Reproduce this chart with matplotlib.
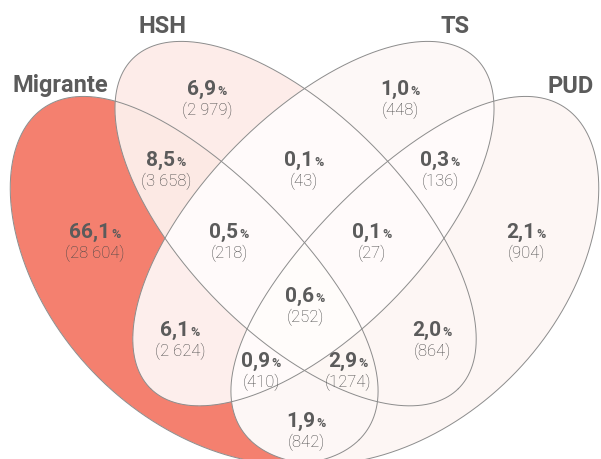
import numpy as np
import matplotlib
matplotlib.use('Agg')
import matplotlib.pyplot as plt
from matplotlib.colors import to_rgba

# ---------------- data ----------------
set_names = ["Migrante", "HSH", "TS", "PUD"]
region_keys = ["M", "H", "T", "P", "MH", "HT", "TP", "MHT", "HTP", "MHTP",
               "MT", "HP", "MTP", "MHP", "MP"]
region_pct = [66.1, 6.9, 1.0, 2.1, 8.5, 0.1, 0.3, 0.5, 0.1, 0.6,
              6.1, 2.0, 0.9, 2.9, 1.9]
region_count = ["28 604", "2 979", "448", "904", "3 658", "43", "136", "218", "27", "252",
                "2 624", "864", "410", "1274", "842"]

# ---------------- layout (pixel geometry of the four shapes) ----------------
W, H = 601, 459
SYM = 304.5   # vertical symmetry axis
# (cx, cy, semi-major, semi-minor, angle deg, bend)
SHAPE_OUTER = (183.7, 290.8, 229.4, 121.6, 45.0, -0.361)   # Migrante (PUD mirrored)
SHAPE_INNER = (295.4, 223.8, 231.8, 110.0, 45.4, -0.006)   # HSH (TS mirrored)
shapes = [(SHAPE_OUTER, False), (SHAPE_INNER, False), (SHAPE_INNER, True), (SHAPE_OUTER, True)]

region_colors = {
    "M": "#F4806F", "H": "#FDEDEA", "T": "#FEF8F7", "P": "#FEF6F4",
    "MH": "#FCE9E4", "HT": "#FFFBFA", "TP": "#FFFBFA", "MHT": "#FFFBFA",
    "HTP": "#FFFBFA", "MHTP": "#FFFCFB", "MT": "#FDEFEC", "HP": "#FEF6F4",
    "MTP": "#FFFBFA", "MHP": "#FEF7F5", "MP": "#FEF7F6",
}
label_pos = {  # (x, baseline y of percentage)
    "M": (95, 238), "H": (207, 95), "T": (400, 95), "P": (526, 238),
    "MH": (166, 166), "HT": (304, 166), "TP": (440, 166), "MHT": (229, 238),
    "HTP": (372, 238), "MHTP": (305, 302), "MT": (180, 336), "HP": (432, 336),
    "MTP": (261, 367), "MHP": (348, 367), "MP": (306, 427),
}
set_label_pos = [(60, 92), (162, 33), (455, 33), (571, 93)]

TXT = "#5b5b5b"
CNT = "#454545"
LINE = "#8c8c8c"
plt.rcParams['font.family'] = ['Roboto', 'DejaVu Sans']

fig = plt.figure(figsize=(W/100, H/100), dpi=100)
ax = fig.add_axes([0, 0, 1, 1])
ax.set_xlim(0, W); ax.set_ylim(H, 0); ax.axis('off')

TT = np.linspace(0, 2*np.pi, 1500)

def outline(shape):
    (cx, cy, a, b, ang, k), mir = shape
    t = np.radians(ang)
    u = a*np.cos(TT)
    v = b*np.sin(TT) + k*u*u/1000.0
    xo = cx + u*np.cos(t) - v*np.sin(t)
    yo = cy + u*np.sin(t) + v*np.cos(t)
    if mir:
        xo = 2*SYM - xo
    return xo, yo

def inside(shape, X, Y):
    (cx, cy, a, b, ang, k), mir = shape
    if mir:
        X = 2*SYM - X
    t = np.radians(ang)
    dx, dy = X - cx, Y - cy
    u = dx*np.cos(t) + dy*np.sin(t)
    v = -dx*np.sin(t) + dy*np.cos(t) - k*u*u/1000.0
    return (u/a)**2 + (v/b)**2 <= 1

# region fills
S = 3
xs = (np.arange(W*S) + 0.5)/S
ys = (np.arange(H*S) + 0.5)/S
X, Y = np.meshgrid(xs, ys)
letters = "MHTP"
code = np.zeros(X.shape, int)
for i, sh in enumerate(shapes):
    code |= inside(sh, X, Y).astype(int) << i
img = np.ones(X.shape + (4,))
img[..., 3] = 0
for key in region_keys:
    c = sum(1 << letters.index(ch) for ch in key)
    img[code == c] = to_rgba(region_colors[key])
ax.imshow(img, extent=(0, W, H, 0), interpolation='antialiased', zorder=1)

# outlines
for sh in shapes:
    xo, yo = outline(sh)
    ax.plot(xo, yo, color=LINE, lw=0.7, zorder=2)

# region labels
fig.canvas.draw()
r = fig.canvas.get_renderer()
for key, pct, cnt in zip(region_keys, region_pct, region_count):
    x, yb = label_pos[key]
    s = f"{pct:.1f}".replace('.', ',')
    t1 = ax.text(0, yb, s, fontsize=15, fontweight='bold', color=TXT, va='baseline', ha='left', zorder=4)
    t2 = ax.text(0, yb, "%", fontsize=9, fontweight='bold', color=TXT, va='baseline', ha='left', zorder=4)
    w1 = t1.get_window_extent(r).width
    w2 = t2.get_window_extent(r).width
    x0 = x - (w1 + w2 + 1)/2
    t1.set_x(x0); t2.set_x(x0 + w1 + 1)
    ax.text(x, yb + 20, f"({cnt})", fontsize=12, fontweight='light', color=CNT,
            va='baseline', ha='center', zorder=4)

# set labels
for name, (x, y) in zip(set_names, set_label_pos):
    ax.text(x, y, name, fontsize=17, fontweight='bold', color=TXT, va='baseline', ha='center', zorder=4)

fig.savefig("out.png", dpi=100)
